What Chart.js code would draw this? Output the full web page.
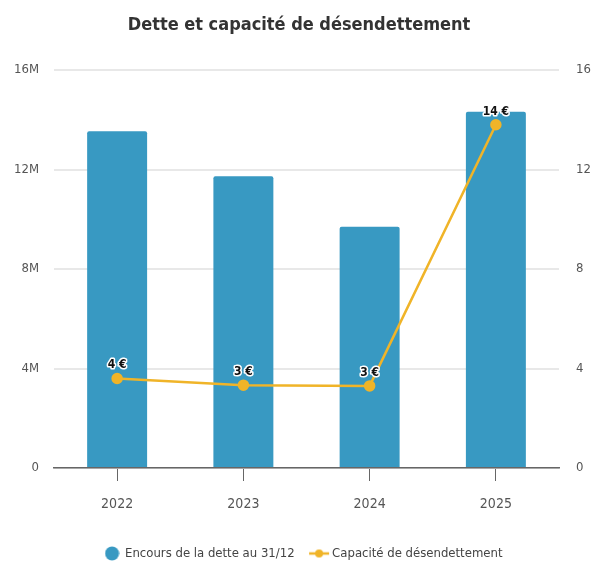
<!DOCTYPE html>
<html><head><meta charset="utf-8">
<script src="https://cdn.jsdelivr.net/npm/chart.js@4"></script>
<style>
html,body{margin:0;padding:0;background:#fff;}
#wrap{width:595px;height:565px;position:relative;}
</style></head>
<body><div id="wrap"><canvas id="c" width="595" height="565"></canvas></div>
<script>
const categories = ['2022','2023','2024','2025'];
const encoursDette = [13540000, 11730000, 9700000, 14320000];
const capaciteDesendettement = [3.6, 3.33, 3.3, 13.8];
const capaciteLabels = ['4 €','3 €','3 €','14 €'];
const leftTicks = [0, 4000000, 8000000, 12000000, 16000000];
const rightTicks = [0, 4, 8, 12, 16];

const FONT = '"DejaVu Sans Condensed", "Liberation Sans", Arial, sans-serif';
const BLUE = '#3899c2';
const GOLD = '#f0b428';

const pointLabelPlugin = {
  id: 'pointLabels',
  afterLayout(chart) {
    const lg = chart.legend;
    if (lg) { lg.top += 5; lg.bottom += 5; lg.left += 5; lg.right += 5; }
  },
  afterDatasetsDraw(chart) {
    const meta = chart.getDatasetMeta(1);
    const ctx = chart.ctx;
    ctx.save();
    ctx.font = 'bold 12px ' + FONT;
    ctx.textAlign = 'center';
    ctx.textBaseline = 'alphabetic';
    ctx.lineJoin = 'round';
    meta.data.forEach((pt, i) => {
      const t = capaciteLabels[i];
      ctx.lineWidth = 3;
      ctx.strokeStyle = '#fff';
      ctx.strokeText(t, pt.x, pt.y - 10);
      ctx.fillStyle = '#111';
      ctx.fillText(t, pt.x, pt.y - 10);
    });
    ctx.restore();
  }
};

function lineIcon() {
  const c = document.createElement('canvas');
  c.width = 22; c.height = 12;
  const g = c.getContext('2d');
  g.strokeStyle = GOLD; g.lineWidth = 2.5;
  g.beginPath(); g.moveTo(1, 6); g.lineTo(21, 6); g.stroke();
  g.fillStyle = GOLD;
  g.beginPath(); g.arc(11, 6, 4, 0, Math.PI * 2); g.fill();
  return c;
}
function circleIcon() {
  const c = document.createElement('canvas');
  c.width = 15; c.height = 15;
  const g = c.getContext('2d');
  g.fillStyle = BLUE;
  g.beginPath(); g.arc(7.5, 7.5, 7, 0, Math.PI * 2); g.fill();
  return c;
}
const icons = [circleIcon(), lineIcon()];

new Chart(document.getElementById('c'), {
  data: {
    labels: categories,
    datasets: [
      {
        type: 'bar',
        label: 'Encours de la dette au 31/12',
        data: encoursDette,
        backgroundColor: BLUE,
        borderRadius: 2,
        borderSkipped: 'bottom',
        barPercentage: 0.5,
        categoryPercentage: 0.95,
        yAxisID: 'y',
        order: 2
      },
      {
        type: 'line',
        label: 'Capacité de désendettement',
        data: capaciteDesendettement,
        borderColor: GOLD,
        backgroundColor: GOLD,
        borderWidth: 2.5,
        pointRadius: 4.5,
        pointHoverRadius: 4.5,
        tension: 0,
        yAxisID: 'y1',
        order: 1
      }
    ]
  },
  options: {
    responsive: false,
    animation: false,
    layout: { autoPadding: false, padding: { left: 3, right: 0, top: 0, bottom: 0 } },
    plugins: {
      title: {
        display: true,
        text: 'Dette et capacité de désendettement',
        color: '#333',
        font: { family: FONT, size: 18, weight: 'bold' },
        padding: { top: 15, bottom: 33.4 }
      },
      legend: {
        position: 'bottom',
        labels: {
          usePointStyle: true,
          color: '#444',
          font: { family: FONT, size: 13 },
          padding: 18,
          generateLabels(chart) {
            const base = Chart.defaults.plugins.legend.labels.generateLabels(chart);
            base.sort((a, b) => a.datasetIndex - b.datasetIndex);
            base.forEach(l => { l.pointStyle = icons[l.datasetIndex]; });
            return base;
          }
        }
      },
      tooltip: { enabled: false }
    },
    scales: {
      x: {
        grid: { display: true, drawOnChartArea: false, drawTicks: true, tickLength: 13, offset: false, color: '#666' },
        border: { display: true, color: '#666', width: 1.5 },
        ticks: { color: '#555', font: { family: FONT, size: 14 }, padding: 15 },
        afterFit(scale) { scale.height = 56; }
      },
      y: {
        position: 'left',
        min: 0, max: 16000000,
        afterBuildTicks(scale) { scale.ticks = leftTicks.map(v => ({ value: v })); },
        grid: { color: '#e8e8e8', lineWidth: 2, drawTicks: false },
        border: { display: false },
        ticks: {
          color: '#555', font: { family: FONT, size: 13 }, padding: 15,
          callback: v => v === 0 ? '0' : (v / 1000000) + 'M'
        },
        afterFit(scale) { scale.width = 51; }
      },
      y1: {
        position: 'right',
        min: 0, max: 16,
        afterBuildTicks(scale) { scale.ticks = rightTicks.map(v => ({ value: v })); },
        grid: { display: false, drawTicks: false },
        border: { display: false },
        ticks: { color: '#555', font: { family: FONT, size: 13 }, padding: 17 },
        afterFit(scale) { scale.width = 36; }
      }
    }
  },
  plugins: [pointLabelPlugin]
});
</script></body></html>
